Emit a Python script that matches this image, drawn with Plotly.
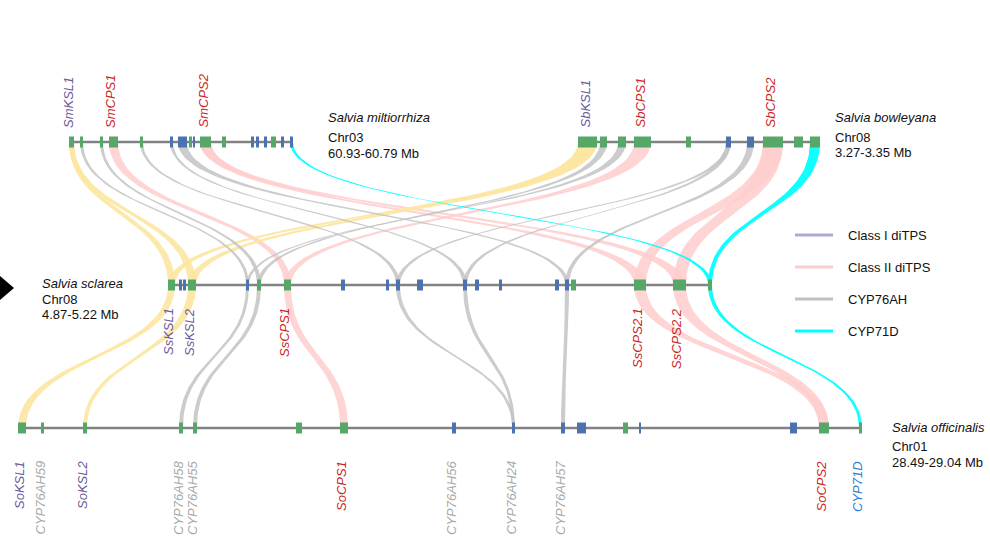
import numpy as np
import plotly.graph_objects as go

# ---------------- data ----------------
# Gene positions along each track (track units), gene type (g = green, b = blue), labels
sm_start = [69, 80, 100, 109, 140, 170, 178, 189, 193, 200, 222, 251, 256, 264, 271, 281, 290]
sm_end   = [74, 83, 103, 118, 143, 173, 187, 192, 195, 211, 226, 254, 259, 267, 276, 284, 293]
sm_type  = ["g", "g", "g", "g", "g", "b", "b", "g", "b", "g", "g", "b", "b", "b", "g", "b", "b"]
sm_label = {0: "SmKSL1", 3: "SmCPS1", 9: "SmCPS2"}

sb_start = [578, 600, 618, 634, 686, 726, 747, 763, 794, 810]
sb_end   = [597, 607, 626, 651, 691, 731, 754, 783, 803, 820]
sb_type  = ["g", "g", "g", "g", "g", "b", "b", "g", "g", "g"]
sb_label = {0: "SbKSL1", 3: "SbCPS1", 7: "SbCPS2"}

ss_start = [168, 179, 183, 188, 246, 257, 284, 341, 386, 396, 417, 463, 475, 499, 555, 565, 571, 634, 673, 708]
ss_end   = [175, 182, 186, 196, 249, 261, 291, 345, 389, 400, 423, 467, 479, 502, 559, 569, 576, 646, 686, 712]
ss_type  = ["g", "b", "b", "g", "b", "g", "g", "b", "b", "b", "b", "b", "b", "b", "b", "b", "g", "g", "g", "g"]
ss_label = {0: "SsKSL1", 3: "SsKSL2", 6: "SsCPS1", 17: "SsCPS2.1", 18: "SsCPS2.2"}

so_start = [18, 41, 83, 179, 193, 296, 340, 452, 512, 561, 577, 623, 639, 790, 819, 859]
so_end   = [26, 44, 87, 183, 197, 302, 348, 456, 515, 565, 586, 628, 641, 797, 829, 862]
so_type  = ["g", "g", "g", "g", "g", "g", "g", "b", "b", "b", "b", "g", "b", "b", "g", "g"]
so_label = {0: "SoKSL1", 1: "CYP76AH59", 2: "SoKSL2", 3: "CYP76AH58", 4: "CYP76AH55",
            6: "SoCPS1", 7: "CYP76AH56", 8: "CYP76AH24", 9: "CYP76AH57", 14: "SoCPS2", 15: "CYP71D"}

species = {"sm": ("Salvia miltiorrhiza", "Chr03", "60.93-60.79 Mb"),
           "sb": ("Salvia bowleyana", "Chr08", "3.27-3.35 Mb"),
           "ss": ("Salvia sclarea", "Chr08", "4.87-5.22 Mb"),
           "so": ("Salvia officinalis", "Chr01", "28.49-29.04 Mb")}

# Syntenic links: (source track, gene idx, target track, gene idx, family)
links = [
    ("sm", 0, "ss", 0, "ksl"), ("sm", 0, "ss", 3, "ksl"), ("sm", 1, "ss", 4, "cyp76"),
    ("sm", 2, "ss", 5, "cyp76"), ("sm", 3, "ss", 6, "cps"), ("sm", 4, "ss", 9, "cyp76"),
    ("sm", 5, "ss", 11, "cyp76"), ("sm", 6, "ss", 15, "cyp76"), ("sm", 9, "ss", 17, "cps"),
    ("sm", 9, "ss", 18, "cps"), ("sm", 16, "ss", 19, "cyp71"),
    ("sb", 0, "ss", 0, "ksl"), ("sb", 0, "ss", 3, "ksl"), ("sb", 1, "ss", 5, "cyp76"),
    ("sb", 2, "ss", 4, "cyp76"), ("sb", 3, "ss", 6, "cps"), ("sb", 5, "ss", 9, "cyp76"),
    ("sb", 5, "ss", 11, "cyp76"), ("sb", 6, "ss", 15, "cyp76"), ("sb", 7, "ss", 17, "cps"),
    ("sb", 7, "ss", 18, "cps"), ("sb", 9, "ss", 19, "cyp71"),
    ("ss", 0, "so", 0, "ksl"), ("ss", 3, "so", 2, "ksl"), ("ss", 4, "so", 3, "cyp76"),
    ("ss", 5, "so", 4, "cyp76"), ("ss", 6, "so", 6, "cps"), ("ss", 9, "so", 8, "cyp76"),
    ("ss", 11, "so", 8, "cyp76"), ("ss", 15, "so", 9, "cyp76"), ("ss", 17, "so", 14, "cps"),
    ("ss", 18, "so", 14, "cps"), ("ss", 19, "so", 15, "cyp71"),
]

legend_labels = ["Class I diTPS", "Class II diTPS", "CYP76AH", "CYP71D"]

# ---------------- styles / layout ----------------
TRACK_Y = {"sm": 142, "sb": 142, "ss": 285, "so": 428}
GENE_H = 11
GENE_COL = {"g": "#55a868", "b": "#4c72b0"}
LINK_COL = {"ksl": "rgba(252,230,160,0.9)", "cps": "rgba(255,205,205,0.85)",
            "cyp76": "rgba(195,195,195,0.85)", "cyp71": "rgba(0,255,255,0.95)"}
LEGEND_COL = ["#b4a6d4", "#ffcccc", "#c0c0c0", "#00ffff"]
FONT = "Liberation Sans, Arial, sans-serif"

tracks = {
    "sm": (sm_start, sm_end, sm_type, sm_label),
    "sb": (sb_start, sb_end, sb_type, sb_label),
    "ss": (ss_start, ss_end, ss_type, ss_label),
    "so": (so_start, so_end, so_type, so_label),
}


def label_color(name):
    if "KSL" in name:
        return "#6a5b9a"
    if "CPS" in name:
        return "#cc1f26"
    if "CYP76" in name:
        return "#a9a9a9"
    return "#2a80d2"


def bez(x0, y0, x1, y1, n=50):
    t = np.linspace(0, 1, n)
    ym = (y0 + y1) / 2
    x = (1 - t) ** 3 * x0 + 3 * (1 - t) ** 2 * t * x0 + 3 * (1 - t) * t ** 2 * x1 + t ** 3 * x1
    y = (1 - t) ** 3 * y0 + 3 * (1 - t) ** 2 * t * ym + 3 * (1 - t) * t ** 2 * ym + t ** 3 * y1
    return x, y


fig = go.Figure()

# ribbons
for order in ["cps", "ksl", "cyp76", "cyp71"]:
    for s, si, t, ti, fam in links:
        if fam != order:
            continue
        s0, s1 = tracks[s][0], tracks[s][1]
        t0, t1 = tracks[t][0], tracks[t][1]
        ya, yb = TRACK_Y[s], TRACK_Y[t]
        xa, ya_ = bez(s0[si], ya, t0[ti], yb)
        xb, yb_ = bez(t1[ti], yb, s1[si], ya)
        fig.add_trace(go.Scatter(x=np.concatenate([xa, xb]), y=np.concatenate([ya_, yb_]),
                                 mode="lines", fill="toself", fillcolor=LINK_COL[fam],
                                 line=dict(width=0), hoverinfo="skip"))

# chromosome lines
for k, (st, en, ty, lb) in tracks.items():
    fig.add_trace(go.Scatter(x=[min(st), max(en)], y=[TRACK_Y[k]] * 2, mode="lines",
                             line=dict(color="#828282", width=2.5), hoverinfo="skip"))

# genes (filled rectangles drawn above the ribbons)
for k, (st, en, ty, lb) in tracks.items():
    yc = TRACK_Y[k]
    for g in ["g", "b"]:
        xs, ys = [], []
        for i in range(len(st)):
            if ty[i] != g:
                continue
            xs += [st[i], en[i], en[i], st[i], st[i], None]
            ys += [yc - GENE_H / 2, yc - GENE_H / 2, yc + GENE_H / 2, yc + GENE_H / 2,
                   yc - GENE_H / 2, None]
        fig.add_trace(go.Scatter(x=xs, y=ys, mode="lines", fill="toself",
                                 fillcolor=GENE_COL[g], line=dict(width=0, color=GENE_COL[g]),
                                 hoverinfo="skip"))

annotations = []
# gene labels
for k, (st, en, ty, lb) in tracks.items():
    for i, name in lb.items():
        cx = (st[i] + en[i]) / 2 - 3
        if k in ("sm", "sb"):
            y, ya = TRACK_Y[k] - 12, "bottom"
        elif k == "ss":
            y, ya = TRACK_Y[k] + 21, "top"
        else:
            y, ya = TRACK_Y[k] + 31, "top"
        annotations.append(dict(x=cx, y=y, xref="x", yref="y", text="<i>%s</i>" % name,
                                textangle=-90, showarrow=False, xanchor="center", yanchor=ya,
                                font=dict(family=FONT, size=13, color=label_color(name))))

# species labels
sp_pos = {"sm": (326, 117, 137, 153), "sb": (833, 117, 137, 152),
          "ss": (40, 283, 299, 314), "so": (890, 427, 446, 462)}
for k, (sp, chrom, rng) in species.items():
    x, y1, y2, y3 = sp_pos[k]
    for txt, yy in (("<i>%s</i>" % sp, y1), (chrom, y2), (rng, y3)):
        annotations.append(dict(x=x, y=yy, xref="x", yref="y", text=txt, showarrow=False,
                                xanchor="left", yanchor="middle",
                                font=dict(family=FONT, size=13, color="#111111")))

# legend
leg_y = [235, 267, 299, 331]
for lbl, col, yy in zip(legend_labels, LEGEND_COL, leg_y):
    fig.add_trace(go.Scatter(x=[795, 833], y=[yy, yy], mode="lines",
                             line=dict(color=col, width=3), hoverinfo="skip"))
    annotations.append(dict(x=846, y=yy, xref="x", yref="y", text=lbl, showarrow=False,
                            xanchor="left", yanchor="middle",
                            font=dict(family=FONT, size=13, color="#111111")))

# black pointer triangle at left
fig.add_trace(go.Scatter(x=[-6, 14, -6], y=[271, 288, 305], mode="lines", fill="toself",
                         fillcolor="black", line=dict(width=0, color="black"), hoverinfo="skip"))

fig.update_layout(
    width=990, height=541, margin=dict(l=0, r=0, t=0, b=0),
    paper_bgcolor="white", plot_bgcolor="white", showlegend=False,
    xaxis=dict(range=[0, 990], visible=False, fixedrange=True),
    yaxis=dict(range=[541, 0], visible=False, fixedrange=True),
    annotations=annotations,
)

fig.write_html("out.html")
